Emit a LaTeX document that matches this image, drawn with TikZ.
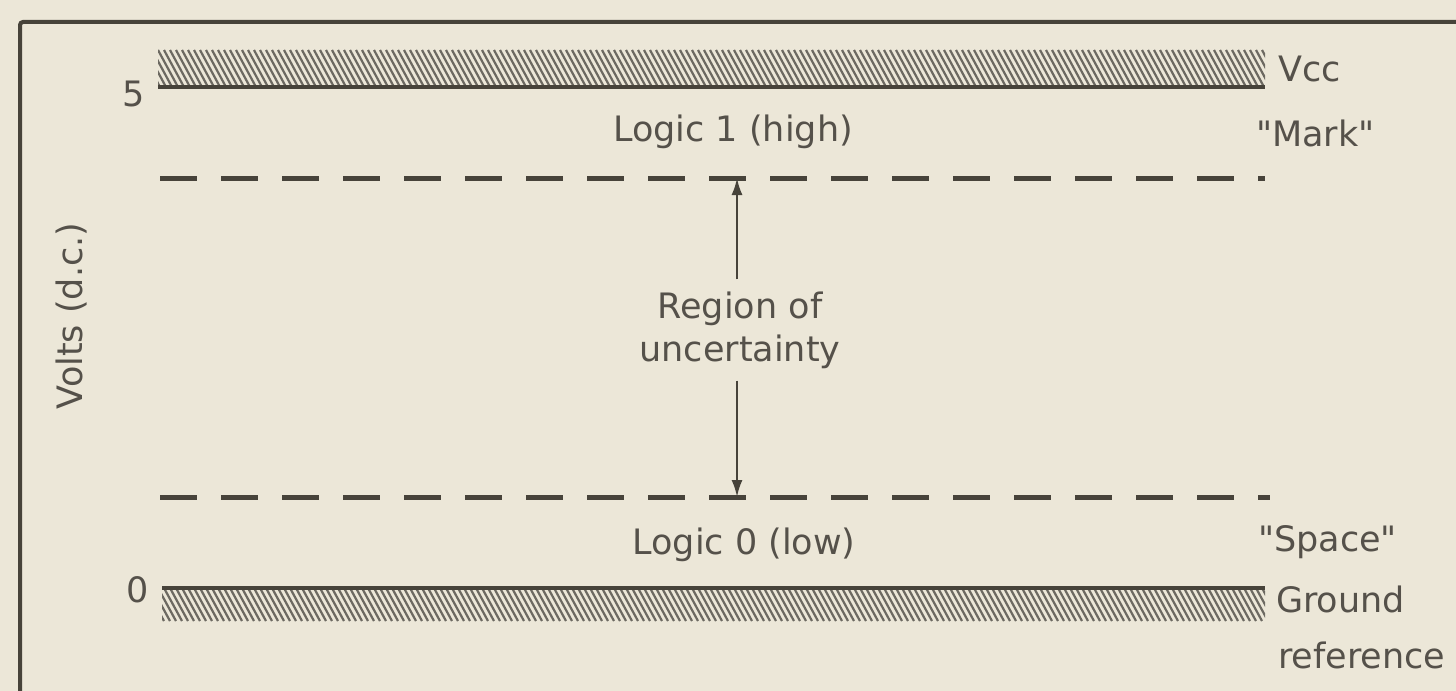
\documentclass[tikz,border=0pt]{standalone}
\usepackage{fontspec}
\setmainfont{DejaVu Sans}
\usepackage{xcolor}
\usepackage{tikz}
\usetikzlibrary{arrows.meta,positioning}

\definecolor{paper}{HTML}{ECE7D8}
\definecolor{ink}{HTML}{47433A}
\definecolor{txt}{HTML}{55514A}
\newcommand{\lblfont}{\fontsize{35bp}{43bp}\selectfont}

\begin{document}
\begin{tikzpicture}[
    x=1bp, y=-1bp,
    bar/.style={line width=4bp, draw=ink},
    hatch/.style={line width=2.2bp, draw=ink!80},
    dashline/.style={line width=5bp, draw=ink, dash pattern=on 37bp off 24bp},
    lbl/.style={text=txt, font=\lblfont, inner sep=0pt},
    arr/.style={-{Latex[length=17bp,width=11bp]}, line width=2.2bp, draw=ink}
]
    \useasboundingbox (0,0) rectangle (1456,691);
    \fill[paper] (0,0) rectangle (1456,691);
    % frame
    \draw[line width=4bp, draw=ink, rounded corners=3bp] (20,691) -- (20,22) -- (1456,22);

    % supply rail (Vcc)
    \begin{scope}
        \clip (158,50) rectangle (1265,87);
        \foreach \x in {140,146,...,1280}
            \draw[hatch] (\x,50) -- (\x+20,87);
    \end{scope}
    \coordinate (vccL) at (158,87);
    \coordinate (vccR) at (1265,87);
    \draw[bar] (vccL) -- (vccR);

    % ground rail
    \begin{scope}
        \clip (162,588) rectangle (1265,621);
        \foreach \x in {140,146,...,1280}
            \draw[hatch] (\x,588) -- (\x+18,621);
    \end{scope}
    \coordinate (gndL) at (162,588);
    \coordinate (gndR) at (1265,588);
    \draw[bar] (gndL) -- (gndR);

    % threshold lines
    \coordinate (hiL) at (160,178);
    \coordinate (hiR) at (1265,178);
    \coordinate (hiM) at (737,178);
    \coordinate (loL) at (160,497);
    \coordinate (loR) at (1270,497);
    \coordinate (loM) at (737,497);
    \draw[dashline] (hiL) -- (hiR);
    \draw[dashline] (loL) -- (loR);

    % labels
    \node[lbl] (five) at (134,94) {5};
    \node[lbl] (zero) at (138,590) {0};
    \node[lbl, rotate=90] (volts) at (72,316) {Volts (d.c.)};
    \node[lbl, anchor=west] (vcc) at (1278,69) {Vcc};
    \node[lbl, anchor=west] (mark) at (1256,133) {\textquotedbl Mark\textquotedbl};
    \node[lbl, anchor=west] (space) at (1258,542) {\textquotedbl Space\textquotedbl};
    \node[lbl, anchor=west] (ground) at (1276,599) {Ground};
    \node[lbl, anchor=west] (reference) at (1278,655) {reference};
    \node[lbl] (high) at (733,132) {Logic 1 (high)};
    \node[lbl] (low) at (744,545) {Logic 0 (low)};
    \node[lbl, align=center, inner sep=12bp] (region) at (740,330) {Region of\\uncertainty};

    % arrows
    \draw[arr] (region.north -| hiM) -- (hiM);
    \draw[arr] (region.south -| loM) -- (loM);
\end{tikzpicture}
\end{document}
